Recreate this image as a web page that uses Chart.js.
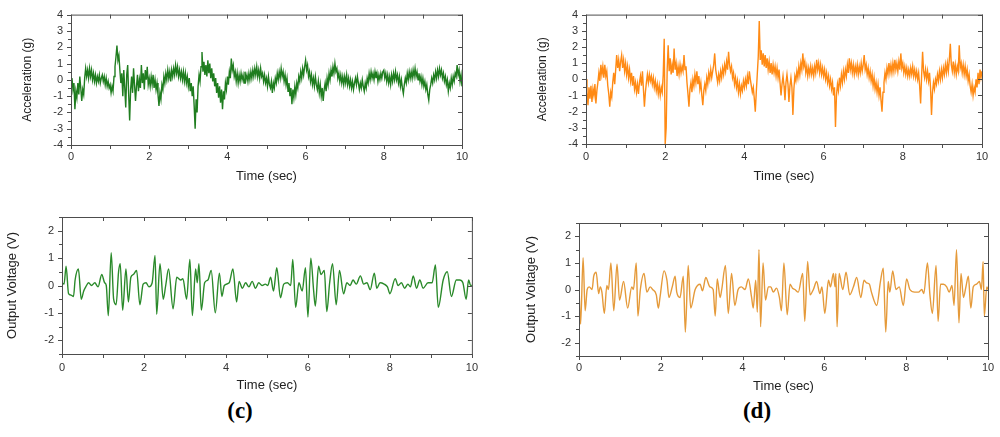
<!DOCTYPE html>
<html>
<head>
<meta charset="utf-8">
<script src="https://cdn.jsdelivr.net/npm/chart.js@4.4.1/dist/chart.umd.min.js"></script>
<style>
  body { margin: 0; background: #fff; width: 1000px; height: 437px; overflow: hidden; position: relative; }
  canvas { position: absolute; }
  .tag { position: absolute; font-family: 'Liberation Serif', 'Times New Roman', serif; font-weight: bold; font-size: 23px; color: #000; transform: translate(-50%, -50%); }
</style>
</head>
<body>
<canvas id="accC" width="475" height="190" style="left:0;top:0"></canvas>
<canvas id="voltC" width="485" height="195" style="left:0;top:200px"></canvas>
<canvas id="accD" width="475" height="190" style="left:520px;top:0"></canvas>
<canvas id="voltD" width="480" height="195" style="left:520px;top:200px"></canvas>
<div class="tag" style="left:240px;top:411px">(c)</div>
<div class="tag" style="left:757px;top:411px">(d)</div>
<script>
// sample step of the acceleration records (sec)
const dt = 0.025;

const timeTicks = [0, 2, 4, 6, 8, 10];
const accTicks = [-4, -3, -2, -1, 0, 1, 2, 3, 4];
const voltTicks = [-2, -1, 0, 1, 2];

// (c) acceleration, one value every dt from 0 to 10 s (one line = 0.5 s)
const accGreen = [
  -0.2, 0.1, -0.6, -0.2, -1.8, -0.7, -1.1, -0.2, -0.9, 0.2, -0.5, -1.3, -0.6, -0.9, 0.1, 0.7, 0.2, 0.6, 0.1, 0.7,
  0.2, 0.6, 0.0, 0.4, -0.1, 0.3, -0.2, 0.2, -0.1, 0.3, -0.2, 0.1, 0.3, -0.1, 0.2, -0.3, 0.1, -0.4, -0.1, -0.5,
  -0.3, -0.8, -0.4, -0.7, 0.2, 0.8, 1.4, 2.1, 1.2, 1.5, 0.6, -0.2, 0.4, -1.0, 0.6, -0.5, -1.7, 0.3, 0.9, -0.9,
  -2.5, -0.6, 0.2, -0.8, 0.7, -0.3, -1.3, -0.4, 0.3, -0.7, 0.0, -0.5, 0.9, -0.2, 0.4, -0.6, 0.6, 0.0, 0.8, -0.3,
  0.1, -0.4, 0.2, -0.3, 0.3, -0.5, 0.0, -0.6, -0.2, -0.9, -1.6, -0.8, -1.2, -0.3, -0.6, 0.2, -0.2, 0.4, 0.0, 0.6,
  0.1, 0.5, -0.1, 0.6, 0.2, 0.7, 0.3, 0.9, 0.4, 0.8, 0.2, 0.6, 0.1, 0.5, 0.0, 0.5, -0.1, 0.4, -0.2, 0.2,
  -0.4, 0.1, -0.7, -0.2, -1.0, -0.4, -1.6, -3.0, -1.2, -2.0, -0.4, 0.3, -0.1, 0.8, 1.7, 0.5, 1.1, 0.3, 0.9, 0.2,
  1.2, 0.4, 1.0, 0.1, 0.7, -0.1, 0.4, -0.4, 0.1, -0.8, -0.2, -1.1, -0.4, -1.4, -0.6, -1.8, -0.7, -1.2, -0.2, -0.6,
  0.2, -0.3, 0.5, 0.1, 1.3, 0.6, 0.9, 0.2, 0.5, -0.1, 0.4, -0.2, 0.3, -0.1, 0.4, 0.0, 0.3, -0.2, 0.5, 0.0,
  0.3, -0.1, 0.4, 0.0, 0.5, 0.1, 0.6, 0.2, 0.7, 0.3, 0.8, 0.2, 0.6, 0.1, 0.7, 0.2, 0.4, -0.1, 0.3, -0.2,
  0.1, -0.4, 0.2, -0.3, -0.5, -0.1, -0.8, -0.2, -0.5, 0.1, -0.2, 0.4, 0.0, 0.5, 0.1, 0.7, 0.2, 0.5, -0.1, 0.3,
  -0.3, 0.1, -0.7, -0.2, -1.0, -0.5, -1.5, -0.6, -1.1, -0.4, -0.9, -0.2, -0.5, 0.2, -0.1, 0.5, 0.1, 0.7, 0.3, 0.8,
  1.2, 0.6, 0.9, 0.2, 0.5, -0.1, 0.3, -0.3, 0.1, -0.4, 0.2, -0.3, -0.6, -0.1, -0.8, -0.3, -1.0, -0.5, -1.3, -0.6,
  -0.2, -0.7, 0.1, -0.3, 0.4, 0.0, 0.6, 0.2, 0.8, 0.4, 1.0, 0.5, 0.7, 0.1, 0.4, -0.1, 0.3, -0.2, 0.2, -0.3,
  0.2, -0.2, 0.3, -0.3, 0.1, -0.4, 0.0, -0.5, -0.1, -0.6, -0.2, 0.1, -0.3, 0.2, -0.2, -0.6, -0.2, -0.5, 0.0, -0.4,
  -0.7, -0.2, -0.5, 0.1, -0.2, 0.4, 0.0, 0.5, 0.1, 0.4, 0.0, 0.5, 0.1, 0.4, -0.1, 0.3, 0.0, 0.4, 0.1, 0.5,
  0.6, 0.1, 0.4, -0.1, 0.3, -0.2, 0.2, -0.3, 0.3, -0.1, 0.4, 0.0, 0.5, 0.0, 0.3, -0.2, 0.2, -0.4, 0.0, -0.5,
  -0.85, -0.3, 0.1, -0.2, 0.4, 0.0, 0.5, 0.1, 0.5, 0.1, 0.6, 0.2, 0.7, 0.2, 0.5, 0.0, 0.4, -0.1, 0.2, -0.3,
  0.1, -0.4, -0.1, -0.6, -0.3, -0.9, -1.25, -0.6, -0.3, 0.1, -0.2, 0.3, 0.0, 0.5, 0.1, 0.6, 0.2, 0.7, 0.3, 0.6,
  0.1, 0.4, -0.1, 0.2, -0.3, 0.0, -0.7, -0.2, -0.5, 0.1, -0.3, 0.2, -0.1, 0.4, 0.2, 0.9, 0.3, 0.6, -0.1, 0.3,
  -0.4
];

// (d) acceleration
const accOrange = [
  0.0, -0.8, -1.6, -0.5, -1.2, -0.4, -1.4, -0.6, -1.0, -0.3, -1.5, -0.7, -0.2, 0.4, -0.1, 0.9, 0.3, 0.8, 0.1, 0.9,
  0.2, 0.5, -0.4, -0.9, -1.7, -0.8, -1.1, -0.2, 0.4, -0.3, 0.6, 1.5, 0.7, 1.2, 0.5, 1.1, 1.5, 0.7, 1.2, 0.5,
  1.0, 0.3, 0.8, 0.1, 0.6, -0.1, 0.4, -0.4, 0.2, -0.6, -0.2, -0.8, -0.3, -0.9, -0.2, 0.2, -0.4, 0.5, -0.6, -1.7,
  -0.8, -0.2, 0.3, -0.2, 0.3, -0.1, 0.2, -0.3, 0.1, -0.5, -0.1, -0.7, -0.3, -0.9, -0.4, -1.0, -0.5, -0.8, 0.3, 2.5,
  -4.0, -3.0, 0.6, 2.1, 0.5, 1.3, 0.3, 0.9, 0.4, 1.9, 0.6, 1.0, 0.2, 0.8, 0.3, 0.9, 0.4, 0.8, 0.5, 1.5,
  0.6, 0.8, -0.2, -0.9, -1.7, -0.6, -0.2, -0.8, 0.0, -0.4, 0.3, -0.2, 0.5, -0.3, 0.2, -0.6, -0.2, -1.0, -1.6, -0.7,
  -0.3, -0.7, 0.1, -0.3, 0.4, 0.0, 0.6, 0.1, 0.5, 0.9, 1.6, 0.6, 0.2, -0.2, 0.3, -0.1, 0.5, 0.1, 0.7, 0.3,
  0.9, 0.5, 1.1, 0.6, 1.7, 0.9, 0.5, 0.8, 0.1, 0.4, -0.3, 0.1, -0.5, -0.1, -0.8, -0.3, -0.9, -0.4, -0.7, -0.1,
  -0.5, 0.0, -0.4, 0.2, -0.3, 0.5, 0.0, -0.4, -0.8, -0.5, -1.2, -2.0, -0.8, 0.3, 1.4, 3.6, 1.2, 1.8, 0.9, 1.6,
  0.8, 1.5, 0.7, 1.3, 0.6, 1.1, 0.4, 1.0, 0.3, 0.9, 0.4, 0.8, 0.2, 0.7, 0.1, 0.6, -0.2, -1.0, -0.3, 0.2,
  -0.4, -1.3, -0.2, 0.3, -0.3, -1.4, -0.4, 0.1, -0.5, -2.2, -0.6, 0.2, -0.1, 0.5, 0.1, 0.8, 0.3, 1.0, 0.6, 1.6,
  0.8, 1.1, 0.4, 0.8, 0.2, 0.7, 0.3, 0.8, 0.3, 0.7, 0.2, 0.8, 0.4, 1.2, 0.6, 1.0, 0.4, 0.9, 0.3, 0.7,
  0.2, 0.6, 0.0, 0.4, -0.2, 0.2, -0.4, 0.0, -0.6, -0.2, -1.0, -0.5, -2.95, -1.0, -0.3, -0.7, 0.1, -0.4, 0.3, -0.2,
  0.5, 0.0, 0.6, 0.2, 0.9, 0.4, 1.3, 0.6, 1.0, 0.4, 0.9, 0.3, 0.8, 0.4, 0.9, 0.3, 0.8, 0.4, 1.0, 0.5,
  0.9, 1.5, 0.6, 0.9, 0.3, 0.7, 0.1, 0.5, -0.1, 0.3, -0.4, 0.1, -0.6, -0.2, -0.8, -0.3, -1.0, -0.5, -1.3, -2.0,
  -0.8, -0.2, 0.4, 0.0, 0.7, 0.3, 1.0, 0.4, 0.9, 0.4, 1.0, 0.5, 1.2, 0.6, 1.0, 0.5, 1.1, 0.6, 1.6, 0.7,
  1.0, 0.4, 0.8, 0.3, 0.7, 0.2, 0.6, 0.2, 0.7, 0.3, 0.8, 0.2, 0.6, 0.1, 0.5, 0.0, 0.4, -0.4, -1.5, 0.2,
  1.7, 0.5, 0.1, 0.6, 0.0, 0.5, -0.1, 0.4, -0.5, -2.2, -0.8, -0.2, -0.6, 0.0, -0.3, 0.3, -0.1, 0.5, 0.0, 0.6,
  0.1, 0.7, 0.3, 0.9, 0.4, 1.0, 0.5, 1.2, 2.2, 0.9, 0.5, 1.1, 0.4, 0.9, 0.3, 0.8, 0.5, 2.1, 0.7, 1.0,
  0.4, 0.9, 0.3, 0.8, 0.2, 0.6, -0.1, 0.3, -0.4, -0.8, -0.3, -1.0, -0.5, -0.8, 0.0, -0.5, 0.4, -0.3, 0.6, 0.1,
  0.5
];

// (c) output voltage, [time, volts] at peaks and turning points
const voltGreen = [
  [0, 0.1], [0.05, 0.05], [0.1, 0.7], [0.16, -0.3], [0.22, -0.35], [0.28, -0.4], [0.32, 0.2], [0.4, 0.6],
  [0.47, -0.5], [0.53, -0.2], [0.58, -0.05], [0.65, 0.1], [0.72, 0.0], [0.8, 0.1], [0.88, -0.05], [0.97, 0.4],
  [1.04, 0.1], [1.08, 0.0], [1.13, -1.1], [1.2, 1.2], [1.26, -0.5], [1.32, -0.7], [1.38, 0.5], [1.42, 0.8],
  [1.48, -0.9], [1.56, 0.6], [1.62, -0.6], [1.68, 0.3], [1.74, 0.4], [1.82, 0.55], [1.9, -0.7], [1.98, 0.05],
  [2.05, 0.1], [2.12, -0.05], [2.2, 0.1], [2.27, 1.1], [2.31, -1.05], [2.39, 0.8], [2.47, -0.5], [2.53, 0.0],
  [2.6, 0.6], [2.71, -0.85], [2.8, 0.3], [2.9, 0.2], [2.95, 0.25], [3.04, -0.5], [3.12, 0.95], [3.18, -1.1],
  [3.26, 0.6], [3.3, 0.1], [3.34, 0.8], [3.4, -0.9], [3.48, 0.1], [3.56, 0.2], [3.64, 0.55], [3.74, -1.0],
  [3.84, 0.45], [3.9, -0.4], [3.96, 0.0], [4.08, 0.1], [4.17, 0.6], [4.26, -0.6], [4.32, 0.15], [4.4, -0.1],
  [4.48, 0.1], [4.56, -0.05], [4.64, 0.15], [4.72, -0.1], [4.8, 0.1], [4.88, 0.0], [4.96, 0.05], [5.02, 0.0],
  [5.09, 0.3], [5.16, -0.2], [5.24, 0.65], [5.33, -0.45], [5.41, 0.05], [5.5, 0.1], [5.58, 0.0], [5.63, 0.95],
  [5.7, -0.8], [5.78, 0.1], [5.86, -0.2], [5.94, 0.65], [6.0, -1.15], [6.07, 1.0], [6.14, -0.2], [6.18, -0.75],
  [6.26, 0.7], [6.32, 0.4], [6.4, 0.55], [6.46, -0.95], [6.53, 0.1], [6.6, 0.8], [6.69, -0.7], [6.77, 0.55],
  [6.87, -0.3], [6.95, 0.1], [7.03, 0.0], [7.1, 0.2], [7.18, 0.05], [7.28, 0.35], [7.36, 0.05], [7.44, 0.1],
  [7.52, -0.15], [7.62, 0.45], [7.68, -0.1], [7.76, 0.1], [7.86, 0.05], [7.94, -0.05], [8.0, -0.3], [8.13, 0.25],
  [8.2, 0.0], [8.28, 0.1], [8.36, -0.1], [8.44, 0.05], [8.5, -0.05], [8.57, 0.35], [8.65, -0.1], [8.73, 0.2],
  [8.81, -0.1], [8.93, 0.1], [9.03, 0.1], [9.11, 0.75], [9.18, -0.8], [9.3, 0.2], [9.4, 0.5], [9.5, -0.4],
  [9.62, 0.2], [9.7, 0.2], [9.78, 0.1], [9.86, -0.5], [9.92, 0.2], [9.97, 0.0], [10, 0.0]
];

// (d) output voltage
const voltOrange = [
  [0, 0.1], [0.04, -1.3], [0.1, 1.2], [0.15, -0.8], [0.2, 0.0], [0.25, 0.1], [0.32, 0.0], [0.36, 0.5],
  [0.42, 0.65], [0.48, -0.15], [0.52, 0.1], [0.56, -0.1], [0.62, -0.9], [0.68, 0.15], [0.72, 0.0], [0.78, 1.0],
  [0.85, -0.8], [0.93, 0.95], [0.99, -0.4], [1.09, 0.3], [1.19, -0.7], [1.29, 0.1], [1.33, 0.0], [1.4, 1.0],
  [1.44, -1.0], [1.5, 0.0], [1.59, 0.6], [1.66, -0.1], [1.74, 0.1], [1.8, 0.0], [1.89, -0.2], [1.94, -0.7],
  [1.98, -0.3], [2.08, 0.7], [2.15, 0.35], [2.2, -0.3], [2.28, 0.1], [2.35, 0.5], [2.39, -0.1], [2.47, -0.3],
  [2.55, 0.5], [2.6, -1.6], [2.67, 0.9], [2.73, -0.7], [2.84, 0.0], [2.96, 0.2], [3.02, -0.05], [3.1, 0.45],
  [3.2, 0.1], [3.28, 0.0], [3.33, -1.0], [3.38, 0.4], [3.45, -0.3], [3.49, 0.0], [3.58, 0.9], [3.65, -0.9],
  [3.73, 0.6], [3.81, -0.6], [3.89, 0.0], [3.97, 0.1], [4.06, 0.0], [4.14, 0.4], [4.22, -0.3], [4.26, -0.7],
  [4.32, 0.35], [4.36, -0.85], [4.4, 1.5], [4.44, -1.4], [4.5, 1.0], [4.56, -0.4], [4.63, 0.1], [4.69, 0.1],
  [4.75, -0.1], [4.83, 0.05], [4.9, -0.3], [4.95, -0.8], [5.01, 1.0], [5.09, -0.95], [5.16, 0.2], [5.22, 0.05],
  [5.28, 0.0], [5.36, -0.1], [5.47, 0.6], [5.52, -1.2], [5.59, 1.05], [5.65, -0.2], [5.73, 0.0], [5.81, 0.3],
  [5.89, -0.15], [5.94, 0.1], [6.01, -0.9], [6.1, 0.35], [6.15, 0.1], [6.22, 0.6], [6.26, 0.1], [6.28, 0.6],
  [6.31, -1.4], [6.36, 0.6], [6.45, 0.0], [6.53, 0.65], [6.62, -0.2], [6.71, 0.1], [6.79, 0.45], [6.89, -0.3],
  [6.97, 0.35], [7.03, 0.25], [7.1, 0.2], [7.15, -0.1], [7.28, -0.6], [7.37, 0.3], [7.44, 0.8], [7.5, -1.6],
  [7.56, 0.3], [7.6, -0.1], [7.67, 0.7], [7.75, 0.0], [7.83, 0.1], [7.93, -0.6], [8.01, 0.4], [8.09, 0.0],
  [8.21, -0.1], [8.3, -0.1], [8.38, 0.0], [8.43, -0.15], [8.52, 1.0], [8.58, -0.2], [8.64, -0.9], [8.73, 0.9],
  [8.78, -1.2], [8.84, 0.2], [8.91, 0.2], [8.99, 0.1], [9.05, -0.1], [9.12, 0.15], [9.17, -0.6], [9.23, 1.5],
  [9.29, -1.25], [9.34, 0.6], [9.4, -0.3], [9.46, 0.1], [9.52, 0.5], [9.58, -0.7], [9.64, 0.1], [9.72, 0.2],
  [9.79, 0.3], [9.84, 0.0], [9.88, 1.05], [9.91, -1.0], [9.97, 0.1], [10, 0.0]
];

Chart.defaults.font.family = "'Liberation Sans', Arial, sans-serif";
Chart.defaults.color = '#333';

// box round the plot area, ticks out on left/bottom, in on top/right
const framePlugin = {
  id: 'frame',
  afterDraw(chart) {
    const { ctx, chartArea: a, scales: { x, y } } = chart;
    ctx.save();
    ctx.strokeStyle = '#4d4d4d';
    ctx.lineWidth = 1;
    ctx.strokeRect(a.left + 0.5, a.top + 0.5, a.right - a.left, a.bottom - a.top);
    ctx.beginPath();
    for (let t = x.min; t <= x.max; t += 1) {
      const px = Math.round(x.getPixelForValue(t)) + 0.5;
      ctx.moveTo(px, a.bottom); ctx.lineTo(px, a.bottom + 4);
      ctx.moveTo(px, a.top); ctx.lineTo(px, a.top + 4);
    }
    for (let v = y.min; v <= y.max; v += 0.5) {
      const py = Math.round(y.getPixelForValue(v)) + 0.5;
      const major = Number.isInteger(v);
      ctx.moveTo(a.left, py); ctx.lineTo(a.left - (major ? 4 : 3), py);
      if (major) { ctx.moveTo(a.right, py); ctx.lineTo(a.right - 4, py); }
    }
    ctx.stroke();
    ctx.restore();
  }
};

function makePanel(id, cfg) {
  new Chart(document.getElementById(id), {
    type: 'line',
    data: {
      datasets: [{
        data: cfg.points,
        borderColor: cfg.color,
        borderWidth: cfg.lineWidth,
        pointRadius: 0,
        fill: false,
        cubicInterpolationMode: cfg.smooth ? 'monotone' : 'default',
        tension: 0
      }]
    },
    options: {
      responsive: false,
      animation: false,
      events: [],
      layout: { padding: { top: cfg.padTop, right: cfg.padRight, left: 0, bottom: 0 } },
      plugins: { legend: { display: false }, tooltip: { enabled: false } },
      scales: {
        x: {
          type: 'linear',
          min: 0, max: 10,
          grid: { display: false, drawTicks: false },
          border: { display: false },
          afterBuildTicks: s => { s.ticks = timeTicks.map(v => ({ value: v })); },
          afterFit: s => { s.height = cfg.xHeight; },
          ticks: { font: { size: 11 }, padding: cfg.xTickPad, maxRotation: 0, autoSkip: false },
          title: { display: true, text: 'Time (sec)', font: { size: 13 }, color: '#222', padding: { top: 0, bottom: cfg.xTitlePad } }
        },
        y: {
          min: cfg.yMin, max: cfg.yMax,
          grid: { display: false, drawTicks: false },
          border: { display: false },
          afterBuildTicks: s => { s.ticks = cfg.yTicks.map(v => ({ value: v })); },
          afterFit: s => { s.width = cfg.yWidth; },
          ticks: { font: { size: 11 }, padding: 8, autoSkip: false },
          title: { display: true, text: cfg.yTitle, font: { size: cfg.yTitleSize }, color: '#222', padding: { top: cfg.yTitlePad, bottom: 0 } }
        }
      }
    },
    plugins: [framePlugin]
  });
}

const accPoints = arr => arr.map((v, i) => ({ x: +(i * dt).toFixed(3), y: v }));
const voltPoints = arr => arr.map(p => ({ x: p[0], y: p[1] }));

makePanel('accC', {
  points: accPoints(accGreen), color: '#1f7d1f', lineWidth: 1.4, smooth: false,
  yMin: -4, yMax: 4, yTicks: accTicks, yTitle: 'Acceleration (g)', yTitleSize: 12,
  padTop: 10, padRight: 13, yWidth: 71, xHeight: 45, xTickPad: 5, xTitlePad: 6, yTitlePad: 20
});
makePanel('voltC', {
  points: voltPoints(voltGreen), color: '#2a8a2a', lineWidth: 1.4, smooth: true,
  yMin: -2.5, yMax: 2.5, yTicks: voltTicks, yTitle: 'Output Voltage (V)', yTitleSize: 13,
  padTop: 17, padRight: 11, yWidth: 62, xHeight: 41, xTickPad: 7, xTitlePad: 2, yTitlePad: 5
});
makePanel('accD', {
  points: accPoints(accOrange), color: '#ff8a14', lineWidth: 1.4, smooth: false,
  yMin: -4, yMax: 4, yTicks: accTicks, yTitle: 'Acceleration (g)', yTitleSize: 12,
  padTop: 9, padRight: 13, yWidth: 66, xHeight: 46, xTickPad: 6, xTitlePad: 6, yTitlePad: 15
});
makePanel('voltD', {
  points: voltPoints(voltOrange), color: '#e59a3a', lineWidth: 1.4, smooth: true,
  yMin: -2.5, yMax: 2.5, yTicks: voltTicks, yTitle: 'Output Voltage (V)', yTitleSize: 13,
  padTop: 23, padRight: 12, yWidth: 59, xHeight: 39, xTickPad: 5, xTitlePad: 1, yTitlePad: 4
});
</script>
</body>
</html>
